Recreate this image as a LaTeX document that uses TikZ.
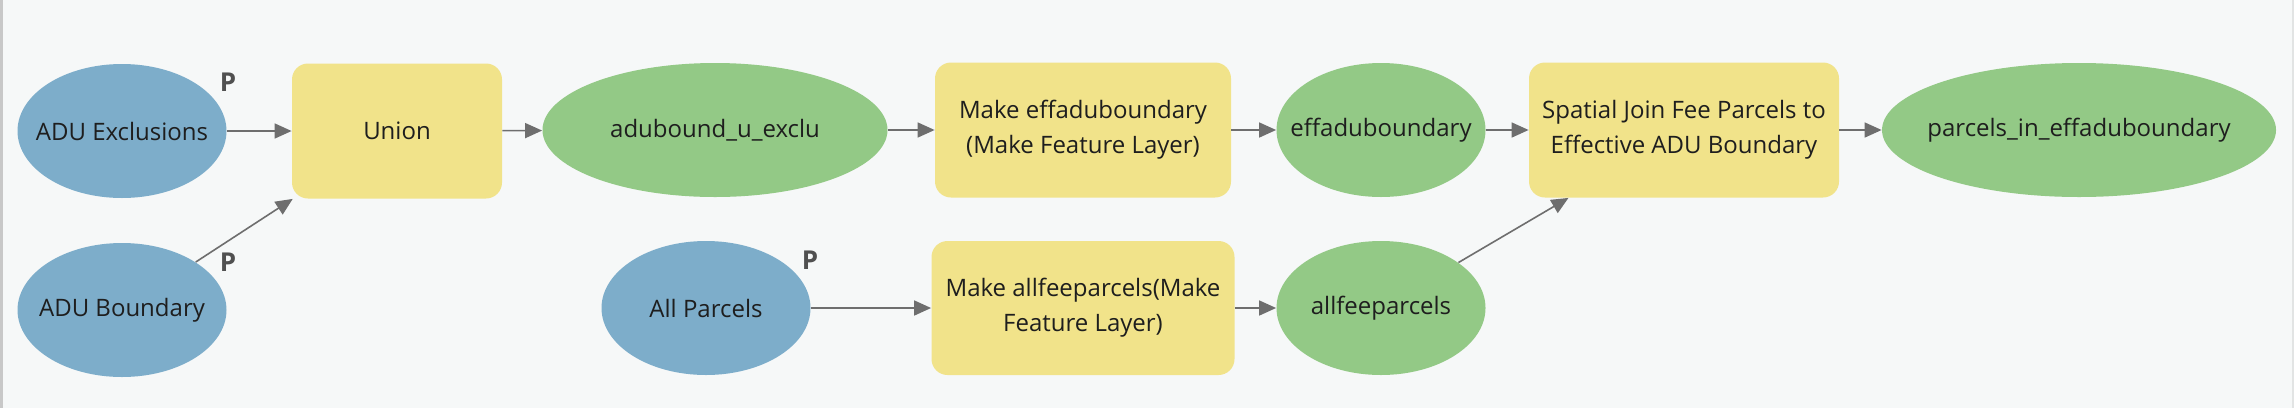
\documentclass[tikz,border=0pt]{standalone}
\usepackage{fontspec}
\setmainfont{Open Sans}
\usetikzlibrary{shapes.geometric,arrows.meta}
\definecolor{bg}{HTML}{F6F8F8}
\definecolor{inblue}{HTML}{7DADCA}
\definecolor{outgreen}{HTML}{93C986}
\definecolor{toolyellow}{HTML}{F1E38A}
\definecolor{txt}{HTML}{1E1E1E}
\definecolor{pcol}{HTML}{505050}
\definecolor{conn}{HTML}{6E6E6E}
\definecolor{lborder}{HTML}{C8C8C8}
\definecolor{rborder}{HTML}{E2E4E4}
\newcommand{\zwtext}[1]{\makebox[0pt]{#1}}
\tikzset{
  every node/.style={font=\fontsize{12}{17.5}\selectfont, text=txt, inner sep=0pt},
  inputnode/.style={ellipse, fill=inblue, minimum width=104.5pt, minimum height=67pt},
  datanode/.style={ellipse, fill=outgreen, minimum height=67pt},
  toolnode/.style={rectangle, rounded corners=8pt, fill=toolyellow, minimum height=67.5pt, align=center},
  plabel/.style={font=\fontsize{13}{15}\selectfont\bfseries, text=pcol},
  flow/.style={draw=conn, line width=0.8pt, -{Triangle[length=8.5pt,width=7.5pt]}}
}
\begin{document}
\begin{tikzpicture}[x=0.5pt,y=-0.5pt]
\useasboundingbox (0,0) rectangle (2294,408);
\fill[bg] (0,0) rectangle (2294,408);
\fill[lborder] (0,0) rectangle (2.5,408);
\fill[rborder] (2291.5,0) rectangle (2294,408);

\node[inputnode] (excl) at (122,131) {\zwtext{ADU Exclusions}};
\node[inputnode] (bound) at (122,310) {\zwtext{ADU Boundary}};
\node[toolnode, minimum width=105pt] (union) at (397,131) {Union};
\node[datanode, minimum width=172.5pt] (adub) at (715,130) {\zwtext{adubound\_u\_exclu}};
\node[toolnode, minimum width=148pt] (meff) at (1083,130) {Make effaduboundary\\(Make Feature Layer)};
\node[datanode, minimum width=104.5pt] (effb) at (1381,130) {\zwtext{effaduboundary}};
\node[toolnode, minimum width=155pt] (sj) at (1684,130) {Spatial Join Fee Parcels to\\Effective ADU Boundary};
\node[datanode, minimum width=197pt] (pie) at (2079,130) {\zwtext{parcels\_in\_effaduboundary}};
\node[inputnode] (allp) at (706,308) {\zwtext{All Parcels}};
\node[toolnode, minimum width=151.5pt, minimum height=67pt] (mall) at (1083,308) {Make allfeeparcels(Make\\Feature Layer)};
\node[datanode, minimum width=104.5pt] (allf) at (1381,308) {\zwtext{allfeeparcels}};

\node[plabel] (p1) at (228,82) {P};
\node[plabel] (p2) at (228,262) {P};
\node[plabel] (p3) at (810,260) {P};

\draw[flow] (excl) -- (union);
\draw[flow] (bound) -- (union);
\draw[flow] (union) -- (adub);
\draw[flow] (adub) -- (meff);
\draw[flow] (meff) -- (effb);
\draw[flow] (effb) -- (sj);
\draw[flow] (sj) -- (pie);
\draw[flow] (allp) -- (mall);
\draw[flow] (mall) -- (allf);
\draw[flow] (allf) -- (sj);
\end{tikzpicture}
\end{document}
